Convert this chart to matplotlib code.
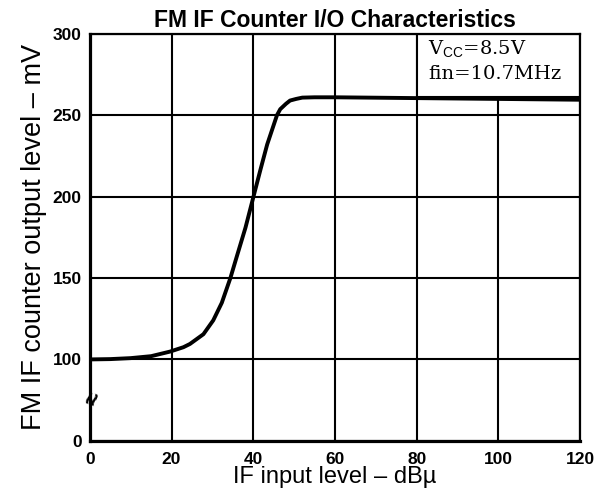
import numpy as np
import matplotlib
matplotlib.use("Agg")
from matplotlib import pyplot as plt
from matplotlib.patches import Rectangle

# values
if_level = [0, 5, 10, 15, 19.6, 22.9, 24.5, 27.8, 30.2, 32.3, 34.4, 36, 38.1,
            40, 41.7, 43.4, 45.8, 46.6, 48, 49, 50.5, 52, 55, 60, 80, 100, 120]
out_level = [100, 100.2, 100.8, 102, 104.8, 107.5, 109.5, 115.5, 124, 134.8,
             150, 163.5, 181, 199.5, 216, 232, 250, 253.7, 257, 259, 260,
             260.8, 261, 261, 260.5, 260, 259.5]
x_ticks = [0, 20, 40, 60, 80, 100, 120]
y_ticks = [0, 100, 150, 200, 250, 300]


def fwd(v):
    # broken axis: 0-100 squeezed into one grid cell, 50 mV per cell above
    v = np.asarray(v, dtype=float)
    return np.where(v <= 100, v / 100.0, 1 + (v - 100) / 50.0)


def inv(u):
    u = np.asarray(u, dtype=float)
    return np.where(u <= 1, u * 100.0, 100 + (u - 1) * 50.0)


plt.rcParams['font.family'] = ['Liberation Sans', 'DejaVu Sans']
plt.rcParams['mathtext.fontset'] = 'custom'
plt.rcParams['mathtext.sf'] = 'Liberation Sans'

fig = plt.figure(figsize=(5.95, 4.97), dpi=100)
ax = fig.add_axes([0.151, 0.113, 0.824, 0.819])

ax.set_yscale('function', functions=(fwd, inv))
ax.set_xlim(0, 120)
ax.set_ylim(0, 300)
ax.set_xticks(x_ticks)
ax.set_yticks(y_ticks)
ax.set_xticklabels([str(t) for t in x_ticks], fontsize=12.5, fontweight='bold')
ax.set_yticklabels([str(t) for t in y_ticks], fontsize=12.5, fontweight='bold')
ax.tick_params(axis='x', length=0, pad=8)
ax.tick_params(axis='y', length=0, pad=6)
ax.grid(True, color='black', linewidth=1.5)
ax.set_axisbelow(True)

for side in ['left', 'bottom']:
    ax.spines[side].set_linewidth(2.3)
for side in ['top', 'right']:
    ax.spines[side].set_linewidth(1.6)

# condition box in the upper right corner
ax.add_patch(Rectangle((80, 261), 40, 39, facecolor='white', edgecolor='black',
                       linewidth=1.5, zorder=2))
ax.text(82.8, 287, r"V$_{\mathsf{CC}}$=8.5V", fontsize=14,
        family='DejaVu Serif', va='baseline', ha='left', zorder=3)
ax.text(82.8, 272.5, "fin=10.7MHz", fontsize=14,
        family='DejaVu Serif', va='baseline', ha='left', zorder=3)

ax.plot(if_level, out_level, color='black', linewidth=2.8,
        solid_capstyle='round', solid_joinstyle='round', zorder=4)

# axis break mark
ax.text(0.8, 52, "≈", fontsize=17, fontweight='bold', rotation=70,
        ha='center', va='center', zorder=5, clip_on=False)

ax.set_title("FM IF Counter I/O Characteristics", fontsize=16.5,
             fontweight='bold', pad=5)
ax.set_xlabel("IF input level – dBµ", fontsize=17, labelpad=-1)
ax.set_ylabel("FM IF counter output level – mV", fontsize=19.5, labelpad=4)

fig.savefig("out.png", dpi=100)
